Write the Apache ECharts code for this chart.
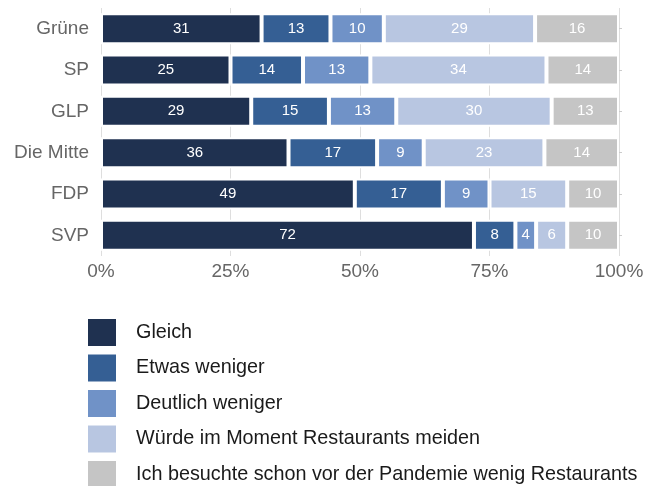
<!DOCTYPE html>
<html>
<head>
<meta charset="utf-8">
<script src="https://cdn.jsdelivr.net/npm/echarts@6/dist/echarts.min.js"></script>
<style>
  html, body { margin: 0; padding: 0; background: #fff; }
  #chart { width: 648px; height: 486px; }
</style>
</head>
<body>
<div id="chart"></div>
<script>
// Parteien (von oben nach unten)
const parties = ['Grüne', 'SP', 'GLP', 'Die Mitte', 'FDP', 'SVP'];
const answers = ['Gleich', 'Etwas weniger', 'Deutlich weniger', 'Würde im Moment Restaurants meiden', 'Ich besuchte schon vor der Pandemie wenig Restaurants'];
const colors = ['#1f3150', '#355f94', '#7092c7', '#b8c6e1', '#c5c5c5'];

// Anteile in Prozent, je Antwort (Reihenfolge wie parties)
const gleich = [31, 25, 29, 36.2, 49, 72];
const etwasWeniger = [13.3, 14, 15, 17.1, 17, 8];
const deutlichWeniger = [10.3, 13, 13, 9.0, 9, 4];
const meiden = [29.2, 34, 30, 23.3, 15, 6];
const schonVorher = [16.2, 14, 13, 14.4, 10, 10];

const xTicks = [0, 25, 50, 75, 100];

const seriesData = [gleich, etwasWeniger, deutlichWeniger, meiden, schonVorher];
const font = 'Liberation Sans, Arial, sans-serif';

let myChart = echarts.init(document.getElementById('chart'));
let option = {
    animation: false,
    color: colors,
    grid: {
        left: 101,
        right: 29,
        top: 8,
        bottom: 230
    },
    legend: {
        orient: 'vertical',
        left: 81,
        top: 312,
        height: 180,
        itemWidth: 30,
        itemHeight: 29,
        itemGap: 4.5,
        icon: 'rect',
        data: answers,
        textStyle: {
            color: '#1a1a1a',
            fontSize: 19.8,
            fontFamily: font,
            padding: [0, 0, 0, 14]
        }
    },
    xAxis: {
        type: 'value',
        min: 0,
        max: 100,
        interval: 25,
        axisLine: { show: false },
        axisTick: { show: false },
        splitLine: {
            show: true,
            lineStyle: { color: '#dedede', width: 1 }
        },
        axisLabel: {
            color: '#666',
            fontSize: 19,
            fontFamily: font,
            margin: 6,
            formatter: (v) => xTicks.includes(v) ? v + '%' : ''
        }
    },
    yAxis: [
        {
            type: 'category',
            inverse: true,
            data: parties,
            axisLine: { show: false },
            axisTick: { show: false },
            axisLabel: {
                color: '#666',
                fontSize: 19,
                fontFamily: font,
                margin: 12
            }
        },
        {
            type: 'category',
            inverse: true,
            position: 'right',
            data: parties,
            axisLine: { show: false },
            axisTick: {
                show: true,
                alignWithLabel: true,
                length: 3,
                lineStyle: { color: '#ccc' }
            },
            axisLabel: { show: false }
        }
    ],
    series: answers.map((name, i) => ({
        name: name,
        type: 'bar',
        stack: 'total',
        barWidth: 31,
        data: seriesData[i],
        itemStyle: {
            color: colors[i],
            borderColor: '#ffffff',
            borderWidth: 2
        },
        label: {
            show: true,
            position: 'inside',
            color: '#ffffff',
            fontSize: 15,
            fontFamily: font,
            formatter: (p) => Math.round(p.value)
        }
    }))
};
myChart.setOption(option);
</script>
</body>
</html>
